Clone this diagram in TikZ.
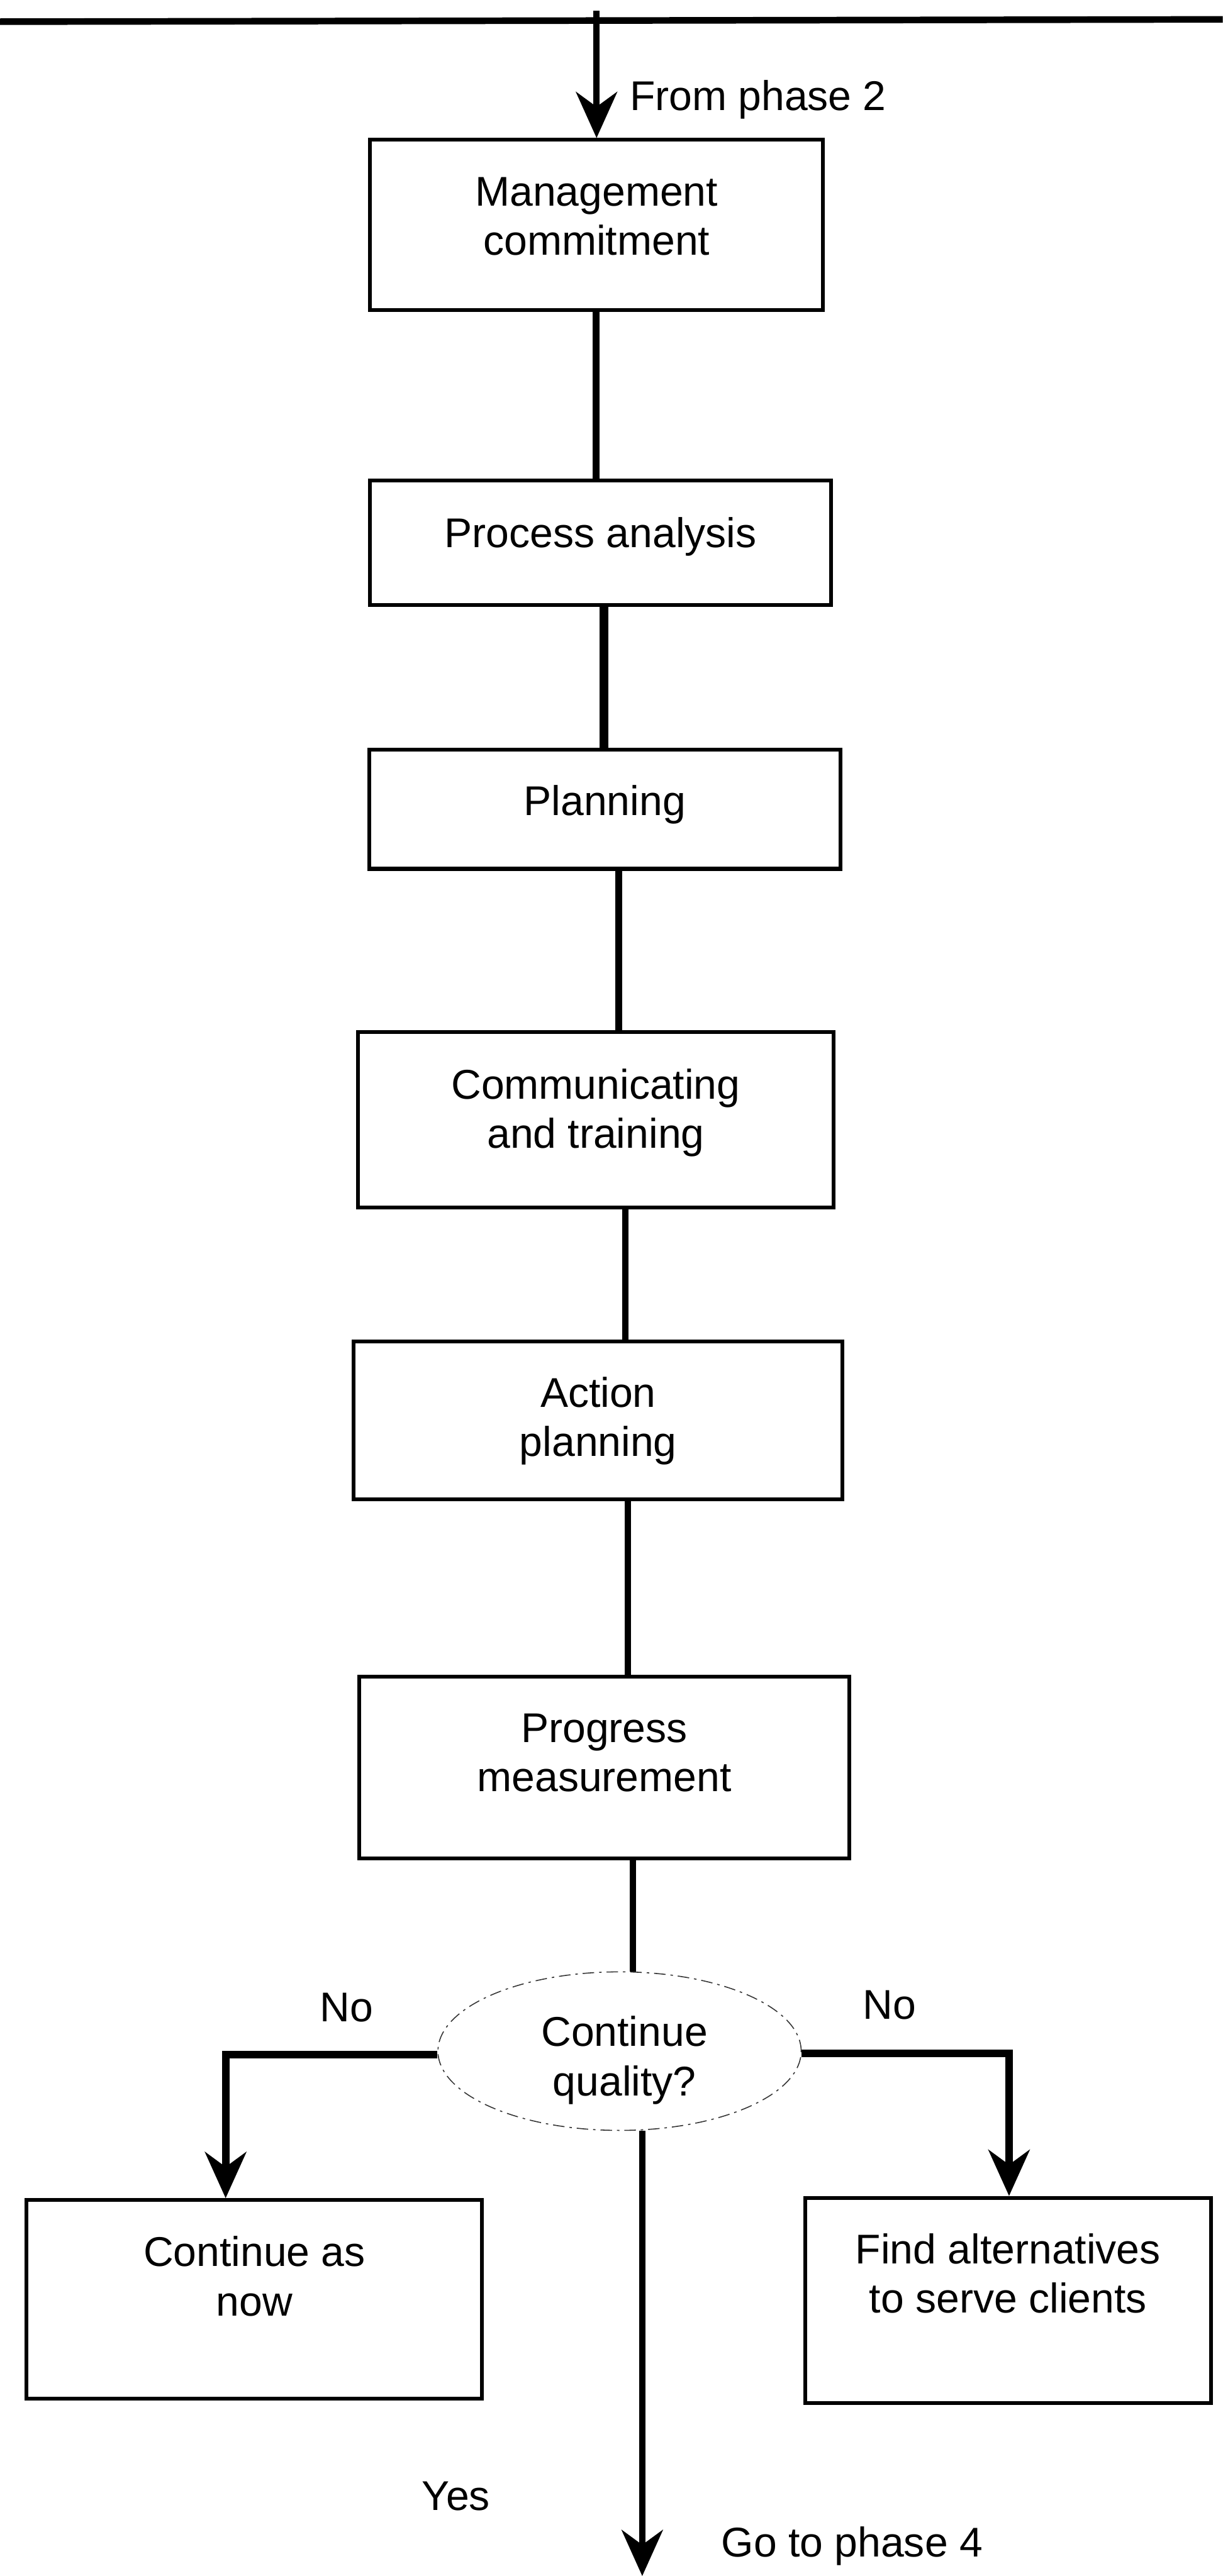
\documentclass[tikz,border=0pt]{standalone}
\usepackage{fontspec}
\setmainfont{Liberation Sans}
\usetikzlibrary{arrows.meta,shapes.geometric}
\begin{document}
\begin{tikzpicture}[x=1pt,y=-1pt,
  box/.style={draw,line width=2.3pt,inner sep=0pt},
  txt/.style={inner sep=0pt,align=center,font=\fontsize{25.3}{30}\selectfont},
  conn/.style={line width=4pt},
  thickconn/.style={line width=5.5pt},
  branch/.style={line width=4.6pt},
  tip/.style={-{Stealth[length=28pt,width=25pt,inset=9pt]}},
  decision/.style={ellipse,draw=black!80,line width=0.6pt,
    dash pattern=on 7pt off 3pt on 1.5pt off 3pt,inner sep=0pt}
]
\useasboundingbox (0,0) rectangle (744,1568);

% process boxes
\node[box,minimum width=275.7pt,minimum height=103.7pt] (b1) at (363,137) {};
\node[box,minimum width=280.7pt,minimum height=75.7pt]  (b2) at (365.5,330.5) {};
\node[box,minimum width=286.7pt,minimum height=72.7pt]  (b3) at (368,492.5) {};
\node[box,minimum width=289.2pt,minimum height=106.7pt] (b4) at (362.5,681.5) {};
\node[box,minimum width=297.4pt,minimum height=96.2pt]  (b5) at (364,864.7) {};
\node[box,minimum width=298.4pt,minimum height=110.5pt] (b6) at (367.7,1075.9) {};
\node[box,minimum width=277.1pt,minimum height=120.7pt] (b7) at (154.8,1399.5) {};
\node[box,minimum width=246.7pt,minimum height=125pt]   (b8) at (613.4,1400.3) {};
\node[decision,minimum width=221pt,minimum height=96.5pt] (q) at (377,1248.5) {};

% box texts
\node[txt] (t1) at (363,131.6)   {Management\\commitment};
\node[txt] (t2) at (365.5,326.7) {Process analysis};
\node[txt] (t3) at (368,489.6)   {Planning};
\node[txt] (t4) at (362.5,677.4) {Communicating\\and training};
\node[txt] (t5) at (364,865)     {Action\\planning};
\node[txt] (t6) at (367.7,1067)  {Progress\\measurement};
\node[txt] (t7) at (154.8,1385.5) {Continue as\\now};
\node[txt] (t8) at (613.4,1383.9) {Find alternatives\\to serve clients};
\node[txt] (tq) at (380,1254)    {Continue\\quality?};

% labels
\node[txt,anchor=base west] (lfrom) at (383,67) {From phase 2};
\node[txt,anchor=base] (lnol) at (211,1230.5) {No};
\node[txt,anchor=base] (lnor) at (541.3,1229) {No};
\node[txt,anchor=base] (lyes) at (277.5,1528) {Yes};
\node[txt,anchor=base west] (lgo) at (438.8,1556.4) {Go to phase 4};

% phase boundary and entry
\coordinate (edgeL) at (0,13.2);
\coordinate (edgeR) at (744,11.8);
\draw[conn] (edgeL) -- (edgeR);
\coordinate (src) at (363,6.6);
\draw[conn,tip] (src) -- (src |- b1.north);

% main chain
\coordinate (x12) at (362.7,0);
\coordinate (x23) at (367.5,0);
\coordinate (x34) at (376.5,0);
\coordinate (x45) at (380.5,0);
\coordinate (x56) at (382,0);
\coordinate (x6q) at (385,0);
\coordinate (xout) at (390.8,0);
\draw[conn] (x12 |- b1.south) -- (x12 |- b2.north);
\draw[thickconn] (x23 |- b2.south) -- (x23 |- b3.north);
\draw[conn] (x34 |- b3.south) -- (x34 |- b4.north);
\draw[conn] (x45 |- b4.south) -- (x45 |- b5.north);
\draw[conn] (x56 |- b5.south) -- (x56 |- b6.north);
\draw[conn] (x6q |- b6.south) -- (x6q |- q.north);

% decision branches
\coordinate (cl) at (137.3,1250.5);
\coordinate (cr) at (614,1250);
\draw[branch,tip] (q.west |- cl) -- (cl) -- (cl |- b7.north);
\draw[branch,tip] (q.east |- cr) -- (cr) -- (cr |- b8.north);
\coordinate (sink) at (390.8,1568);
\draw[conn,tip] (xout |- q.south) -- (sink);
\end{tikzpicture}
\end{document}
